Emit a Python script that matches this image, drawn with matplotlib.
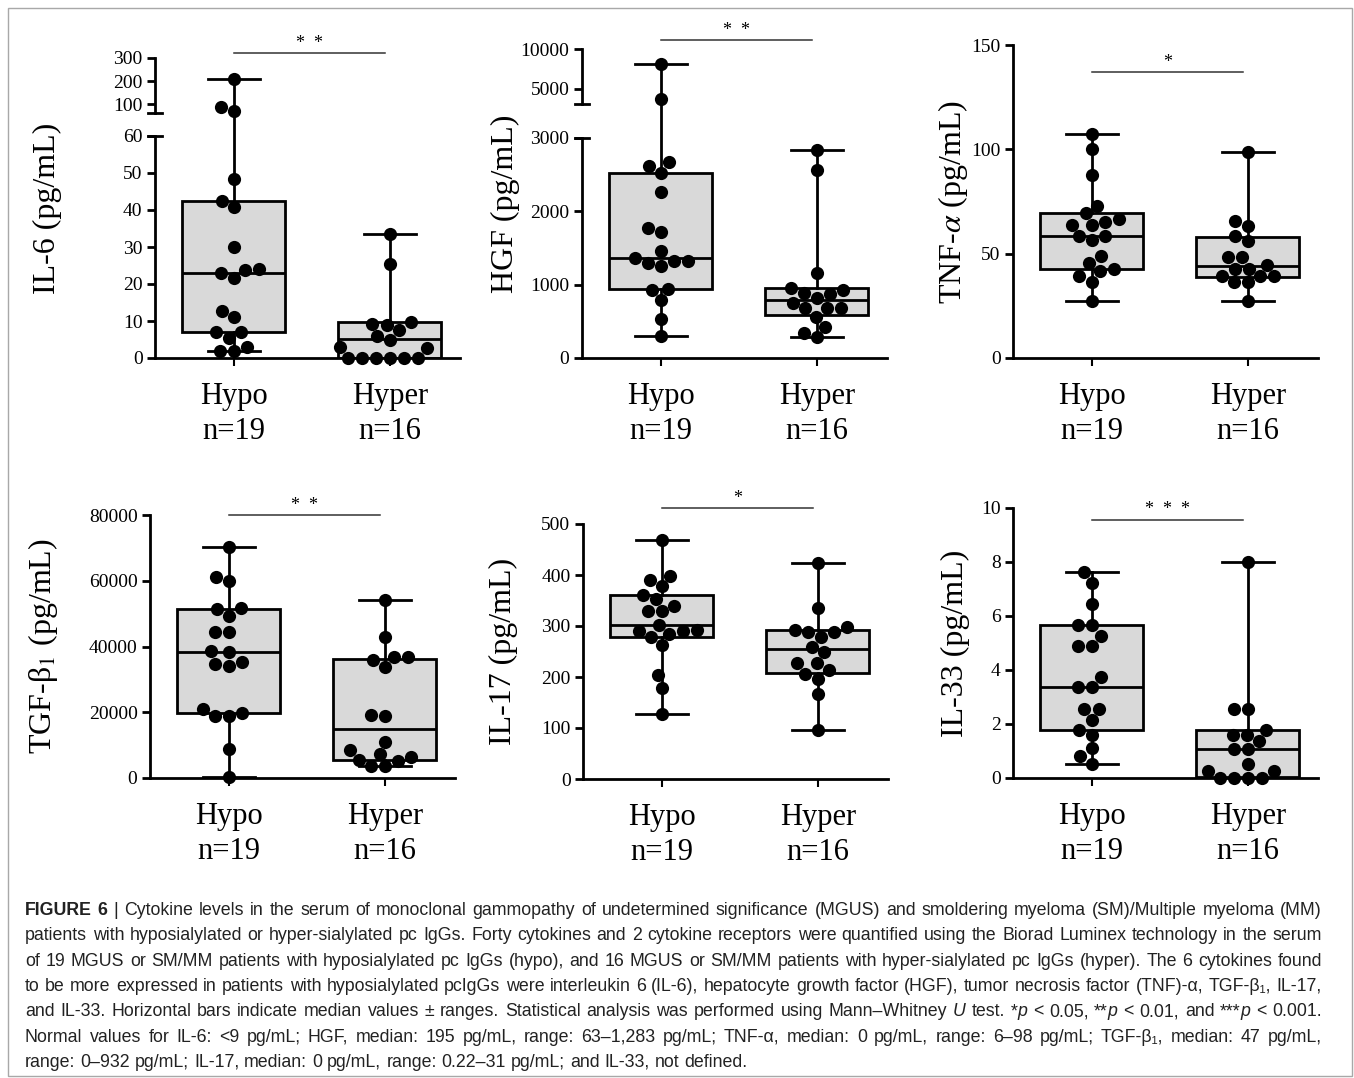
import numpy as np
import matplotlib
matplotlib.use('Agg')
import matplotlib.pyplot as plt
import matplotlib.transforms as mtransforms
from matplotlib.patches import Rectangle
import seaborn as sns

plt.rcParams['font.family'] = ['Liberation Serif', 'DejaVu Serif']
plt.rcParams['mathtext.fontset'] = 'stix'

# ---- data ----
groups = ['Hypo', 'Hyper']
group_labels = ['Hypo\nn=19', 'Hyper\nn=16']

il6_hypo = [207, 85, 70, 48.4, 42.3, 40.7, 30, 24, 23.8, 22.9, 21.6, 12.8, 11.1, 6.9, 6.9, 5.3, 2.9, 2.0, 2.0]
il6_hyper = [33.5, 25.4, 9.6, 9.3, 8.9, 7.5, 6.0, 4.9, 2.9, 2.7, 0, 0, 0, 0, 0, 0]
il6_box = [(6.9, 22.9, 42.3), (0, 5.1, 9.6)]          # q1, median, q3
il6_ticks = [0, 10, 20, 30, 40, 50, 60, 100, 200, 300]

hgf_hypo = [8050, 3700, 2671, 2613, 2523, 2261, 1779, 1725, 1455, 1360, 1329, 1320, 1297, 1252, 946, 923, 788, 527, 302]
hgf_hyper = [2838, 2568, 1162, 955, 923, 892, 878, 820, 752, 676, 676, 676, 563, 428, 347, 284]
hgf_box = [(946, 1360, 2523), (586, 788, 955)]
hgf_ticks = [0, 1000, 2000, 3000, 5000, 10000]

tnf_hypo = [107.5, 100.2, 87.5, 72.7, 69.5, 66.6, 65.3, 63.9, 63.9, 58.6, 58.3, 56.4, 48.7, 45.5, 42.7, 41.5, 39.1, 36.4, 27.2]
tnf_hyper = [98.6, 65.5, 63.1, 58.3, 55.9, 48.2, 48.2, 44.7, 42.7, 42.7, 39.1, 39.1, 39.1, 36.4, 36.4, 27.2]
tnf_box = [(42.7, 58.6, 69.5), (38.8, 43.9, 58.0)]
tnf_ticks = [0, 50, 100, 150]

tgf_hypo = [70200, 61100, 59900, 51600, 51400, 49400, 44300, 44300, 38500, 38300, 35400, 34700, 34200, 21100, 19900, 18900, 18900, 8800, 300]
tgf_hyper = [54200, 43000, 36700, 36700, 35900, 33700, 19300, 19000, 10900, 8600, 7200, 6300, 5600, 5100, 3500, 3500]
tgf_box = [(19900, 38300, 51400), (5600, 14900, 36200)]
tgf_ticks = [0, 20000, 40000, 60000, 80000]

il17_hypo = [469, 399, 390, 378, 361, 352, 340, 329, 329, 301, 292, 290, 290, 284, 278, 262, 203, 178, 127]
il17_hyper = [424, 335, 298, 293, 288, 288, 278, 259, 249, 227, 227, 213, 206, 197, 167, 97]
il17_box = [(278, 301, 361), (208, 254, 292)]
il17_ticks = [0, 100, 200, 300, 400, 500]

il33_hypo = [7.63, 7.22, 6.44, 5.65, 5.65, 5.27, 4.90, 4.90, 3.74, 3.36, 3.36, 2.57, 2.57, 2.16, 1.79, 1.60, 1.11, 0.80, 0.53]
il33_hyper = [7.99, 2.57, 2.57, 1.79, 1.60, 1.60, 1.36, 1.07, 1.07, 0.52, 0.25, 0.25, 0, 0, 0, 0]
il33_box = [(1.79, 3.36, 5.68), (0.05, 1.07, 1.79)]
il33_ticks = [0, 2, 4, 6, 8, 10]

ylabels = ['IL-6 (pg/mL)', 'HGF (pg/mL)', r'TNF-$\alpha$ (pg/mL)',
           r'TGF-β$_1$ (pg/mL)', 'IL-17 (pg/mL)', 'IL-33 (pg/mL)']
stars = ['*  *', '*  *', '*', '*  *', '*', '*  *  *']

caption = [
    [("FIGURE 6", 'bold'), (" | Cytokine levels in the serum of monoclonal gammopathy of undetermined significance (MGUS) and smoldering myeloma (SM)/Multiple myeloma (MM)", 'normal')],
    [("patients with hyposialylated or hyper-sialylated pc IgGs. Forty cytokines and 2 cytokine receptors were quantified using the Biorad Luminex technology in the serum", 'normal')],
    [("of 19 MGUS or SM/MM patients with hyposialylated pc IgGs (hypo), and 16 MGUS or SM/MM patients with hyper-sialylated pc IgGs (hyper). The 6 cytokines found", 'normal')],
    [("to be more expressed in patients with hyposialylated pcIgGs were interleukin 6 (IL-6), hepatocyte growth factor (HGF), tumor necrosis factor (TNF)-α, TGF-β₁, IL-17,", 'normal')],
    [("and IL-33. Horizontal bars indicate median values ± ranges. Statistical analysis was performed using Mann–Whitney ", 'normal'), ("U", 'italic'),
     (" test. *", 'normal'), ("p", 'italic'), (" < 0.05, **", 'normal'), ("p", 'italic'), (" < 0.01, and ***", 'normal'), ("p", 'italic'), (" < 0.001.", 'normal')],
    [("Normal values for IL-6: <9 pg/mL; HGF, median: 195 pg/mL, range: 63–1,283 pg/mL; TNF-α, median: 0 pg/mL, range: 6–98 pg/mL; TGF-β₁, median: 47 pg/mL,", 'normal')],
    [("range: 0–932 pg/mL; IL-17, median: 0 pg/mL, range: 0.22–31 pg/mL; and IL-33, not defined.", 'normal')],
]

# ---- layout (pixels) ----
W, H = 1354, 1078
AX_W = 305
XLIM = (-0.506, 1.449)

panels = [
    dict(hypo=il6_hypo, hyper=il6_hyper, box=il6_box, ticks=il6_ticks, left=155, top=58, bottom=358, lab=62,
         ymax=300, sig=322, brk=([0, 60, 61, 300], [0, 222, 245, 300])),
    dict(hypo=hgf_hypo, hyper=hgf_hyper, box=hgf_box, ticks=hgf_ticks, left=582, top=49, bottom=358, lab=520,
         ymax=10000, sig=11150, brk=([0, 3000, 3050, 10000], [0, 220, 254, 309])),
    dict(hypo=tnf_hypo, hyper=tnf_hyper, box=tnf_box, ticks=tnf_ticks, left=1013, top=45, bottom=358, lab=970,
         ymax=150, sig=137, brk=None),
    dict(hypo=tgf_hypo, hyper=tgf_hyper, box=tgf_box, ticks=tgf_ticks, left=150, top=515, bottom=778, lab=60,
         ymax=80000, sig=80000, brk=None),
    dict(hypo=il17_hypo, hyper=il17_hyper, box=il17_box, ticks=il17_ticks, left=583, top=524, bottom=779, lab=518,
         ymax=500, sig=531, brk=None),
    dict(hypo=il33_hypo, hyper=il33_hyper, box=il33_box, ticks=il33_ticks, left=1013, top=508, bottom=778, lab=970,
         ymax=10, sig=9.56, brk=None),
]

LW = 2.0


def broken_scale(ax, ky, kt):
    """piecewise linear y scale, used to fake the GraphPad axis break"""
    ky = np.asarray(ky, float)
    kt = np.asarray(kt, float)

    def piece(v, a, b):
        v = np.asarray(v, float)
        out = np.interp(v, a, b)
        s_hi = (b[-1] - b[-2]) / (a[-1] - a[-2])
        s_lo = (b[1] - b[0]) / (a[1] - a[0])
        out = np.where(v > a[-1], b[-1] + (v - a[-1]) * s_hi, out)
        out = np.where(v < a[0], b[0] + (v - a[0]) * s_lo, out)
        return out

    ax.set_yscale('function', functions=(lambda v: piece(v, ky, kt), lambda t: piece(t, kt, ky)))


fig = plt.figure(figsize=(W / 100, H / 100), dpi=100)

for i, p in enumerate(panels):
    ax = fig.add_axes([p['left'] / W, 1 - p['bottom'] / H, AX_W / W, (p['bottom'] - p['top']) / H])
    if p['brk'] is not None:
        broken_scale(ax, *p['brk'])

    stats = []
    for vals, (q1, med, q3) in zip([p['hypo'], p['hyper']], p['box']):
        stats.append(dict(med=med, q1=q1, q3=q3, whislo=min(vals), whishi=max(vals)))
    ax.bxp(stats, positions=[0, 1], widths=0.66, capwidths=0.33, showfliers=False,
           patch_artist=True, manage_ticks=False,
           boxprops=dict(facecolor='#d9d9d9', edgecolor='black', linewidth=LW),
           whiskerprops=dict(color='black', linewidth=LW),
           capprops=dict(color='black', linewidth=LW),
           medianprops=dict(color='black', linewidth=LW))

    xs = [groups[0]] * len(p['hypo']) + [groups[1]] * len(p['hyper'])
    ys = list(p['hypo']) + list(p['hyper'])
    sns.swarmplot(x=xs, y=ys, order=groups, color='black', size=9.5, ax=ax, zorder=3, warn_thresh=1)
    for c in ax.collections:
        c.set_clip_on(False)

    ax.set_xlim(*XLIM)
    ax.set_ylim(0, p['ymax'])
    ax.set_xticks([0, 1], group_labels)
    for t in ax.get_xticklabels():
        t.set_linespacing(1.3)
    ax.set_yticks(p['ticks'], [str(t) for t in p['ticks']])
    ax.tick_params(axis='y', direction='out', length=6, width=LW, labelsize=14, pad=3)
    ax.tick_params(axis='x', direction='out', length=6, width=1.5, labelsize=22, pad=11)
    ax.set_xlabel('')
    ax.set_ylabel(ylabels[i], fontsize=23)
    ax.yaxis.set_label_coords((p['lab'] - p['left']) / AX_W, 0.5)

    for s in ['top', 'right']:
        ax.spines[s].set_visible(False)
    ax.spines['bottom'].set_linewidth(LW)
    ax.spines['left'].set_linewidth(LW)

    if p['brk'] is not None:
        ky = p['brk'][0]
        ax.spines['left'].set_visible(False)
        yt = ax.get_yaxis_transform()
        ax.plot([0, 0], [ky[0], ky[1]], color='black', lw=LW, transform=yt, clip_on=False)
        ax.plot([0, 0], [ky[2], ky[3]], color='black', lw=LW, transform=yt, clip_on=False)
        for yb in ky[1:3]:
            ax.plot([-0.024, 0.024], [yb, yb], color='black', lw=LW, transform=yt, clip_on=False)

    # significance bar
    ax.plot([0, 0.97], [p['sig'], p['sig']], color='#333333', lw=1.1, clip_on=False)
    off = mtransforms.offset_copy(ax.transData, fig=fig, y=1, units='points')
    ax.text(0.485, p['sig'], stars[i], ha='center', va='bottom', fontsize=13, transform=off)

# frame around the figure
fig.add_artist(Rectangle((8 / W, 1 - 1076 / H), (1352 - 8) / W, (1076 - 8) / H,
                         transform=fig.transFigure, fill=False, edgecolor='#a8a8a8', lw=1))

# ---- caption, justified like the journal layout ----
renderer = fig.canvas.get_renderer()
cap_fam = ['Liberation Sans Narrow', 'Liberation Sans', 'DejaVu Sans']


def split_words(segments):
    words = [[]]
    for text, st in segments:
        for k, part in enumerate(text.split(' ')):
            if k > 0:
                words.append([])
            if part:
                words[-1].append((part, st))
    return [w for w in words if w]


def make_text(s, st, size):
    return fig.text(0, 0, s, fontsize=size, family=cap_fam, color='#222222',
                    fontweight='bold' if st == 'bold' else 'normal',
                    fontstyle='italic' if st == 'italic' else 'normal',
                    ha='left', va='baseline')


def width(t):
    return t.get_window_extent(renderer).width


base = 10
lines = []
for seg in caption:
    lines.append([[make_text(s, st, base) for s, st in w] for w in split_words(seg)])

a = make_text('x x', 'normal', base)
b = make_text('xx', 'normal', base)
space = width(a) - width(b)
a.remove()
b.remove()

target = 1322 - 25
nat = [sum(width(t) for w in ln for t in w) + space * (len(ln) - 1) for ln in lines[:6]]
size = base * target / max(nat)
space = space * size / base

for k, ln in enumerate(lines):
    for w in ln:
        for t in w:
            t.set_fontsize(size)
    wsum = sum(width(t) for w in ln for t in w)
    gap = (target - wsum) / (len(ln) - 1) if k < 6 else space
    x = 25
    y = 915 + 25.3 * k
    for w in ln:
        for t in w:
            t.set_position((x / W, 1 - y / H))
            x += width(t)
        x += gap

fig.savefig('out.png', dpi=100)
